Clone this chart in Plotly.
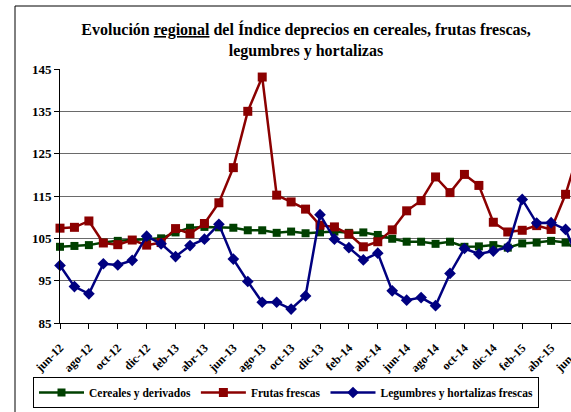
import plotly.graph_objects as go

# Meses (jun-2012 a jun-2015)
meses = [
    "jun-12", "jul-12", "ago-12", "sep-12", "oct-12", "nov-12", "dic-12",
    "ene-13", "feb-13", "mar-13", "abr-13", "may-13", "jun-13", "jul-13",
    "ago-13", "sep-13", "oct-13", "nov-13", "dic-13",
    "ene-14", "feb-14", "mar-14", "abr-14", "may-14", "jun-14", "jul-14",
    "ago-14", "sep-14", "oct-14", "nov-14", "dic-14",
    "ene-15", "feb-15", "mar-15", "abr-15", "may-15", "jun-15",
]

cereales = [
    103.0, 103.2, 103.4, 104.0, 104.4, 104.6, 104.8,
    105.0, 106.4, 107.5, 107.7, 107.6, 107.5, 106.9,
    106.9, 106.3, 106.6, 106.2, 106.4,
    106.6, 106.3, 106.4, 105.8, 104.9, 104.2, 104.2,
    103.7, 104.2, 103.0, 103.1, 103.4,
    102.8, 103.8, 104.0, 104.4, 104.0, 102.0,
]

frutas = [
    107.4, 107.6, 109.1, 103.9, 103.5, 104.6, 103.4,
    104.0, 107.3, 106.1, 108.5, 113.4, 121.7, 135.0,
    143.1, 115.2, 113.6, 111.9, 108.1,
    107.7, 106.0, 103.0, 104.2, 107.0, 111.5, 113.9,
    119.5, 115.8, 120.1, 117.5, 108.8,
    106.5, 106.9, 108.0, 107.1, 115.4, 126.5,
]

legumbres = [
    98.6, 93.6, 91.9, 99.0, 98.7, 99.8, 105.5,
    103.7, 100.7, 103.3, 104.8, 108.3, 100.1, 94.8,
    89.9, 89.9, 88.3, 91.4, 110.6,
    104.8, 102.8, 99.9, 101.5, 92.6, 90.4, 91.0,
    89.1, 96.7, 102.6, 101.3, 102.0,
    102.9, 114.2, 108.6, 108.7, 107.1, 99.0,
]

# Etiquetas del eje X cada dos meses
etiquetas = meses[::2]

SERIF = "Liberation Serif"

W, H = 600, 420
L, T, PW, PH = 60, 69, 520, 254


def px_x(p):
    return (p - L) / PW


def px_y(p):
    return (T + PH - p) / PH


fig = go.Figure()

series = [
    ("Cereales y derivados", cereales, "#004000", "square", 8),
    ("Frutas frescas", frutas, "#8b0000", "square", 9),
    ("Legumbres y hortalizas frescas", legumbres, "#000080", "diamond", 9),
]
for nombre, valores, color, simbolo, tam in series:
    fig.add_trace(go.Scatter(
        x=meses, y=valores, name=nombre, mode="lines+markers",
        line=dict(color=color, width=2.5),
        marker=dict(symbol=simbolo, size=tam, color=color,
                    line=dict(width=0)),
        cliponaxis=False,
    ))

fig.update_layout(
    width=W, height=H,
    margin=dict(l=L, r=W - L - PW, t=T, b=H - T - PH),
    paper_bgcolor="white", plot_bgcolor="white",
    font=dict(family=SERIF, color="black"),
    title=dict(
        text="<b>Evolución <u>regional</u> del Índice deprecios en cereales, "
             "frutas frescas,<br>legumbres y hortalizas</b>",
        font=dict(family=SERIF, size=16, color="black"),
        x=px_x(306), xref="paper", xanchor="center",
        y=1 - 35 / H, yref="container", yanchor="middle",
    ),
    xaxis=dict(
        type="category", categoryorder="array", categoryarray=meses,
        range=[0, len(meses) - 1],
        tickmode="array", tickvals=etiquetas, ticktext=etiquetas,
        tickangle=-45, ticklabelstandoff=7,
        tickfont=dict(family=SERIF, size=12, color="black", weight="bold"),
        showline=True, linecolor="black", linewidth=1,
        ticks="outside", ticklen=5, tickcolor="black", tickwidth=1,
        showgrid=False, zeroline=False,
    ),
    yaxis=dict(
        range=[85, 145], tick0=85, dtick=10,
        tickfont=dict(family=SERIF, size=13, color="black", weight="bold"),
        showline=True, linecolor="black", linewidth=1,
        ticks="outside", ticklen=5, tickcolor="black", tickwidth=1,
        showgrid=True, gridcolor="#6a6a6a", gridwidth=1,
        zeroline=False,
    ),
    showlegend=True,
    legend=dict(
        orientation="h",
        x=px_x(33), xanchor="left",
        y=px_y(377), yanchor="top",
        bordercolor="black", borderwidth=1, bgcolor="white",
        font=dict(family=SERIF, size=11.5, color="black", weight="bold"),
        itemwidth=45,
        itemclick=False,
    ),
    shapes=[
        # marco del gráfico
        dict(type="rect", xref="paper", yref="paper",
             x0=px_x(15), x1=px_x(597), y0=px_y(417), y1=px_y(6),
             line=dict(color="black", width=1), fillcolor="rgba(0,0,0,0)",
             layer="below"),
    ],
)

fig.write_html(
    "out.html",
    post_script="document.documentElement.style.overflow='hidden';"
                "document.body.style.overflow='hidden';",
)
